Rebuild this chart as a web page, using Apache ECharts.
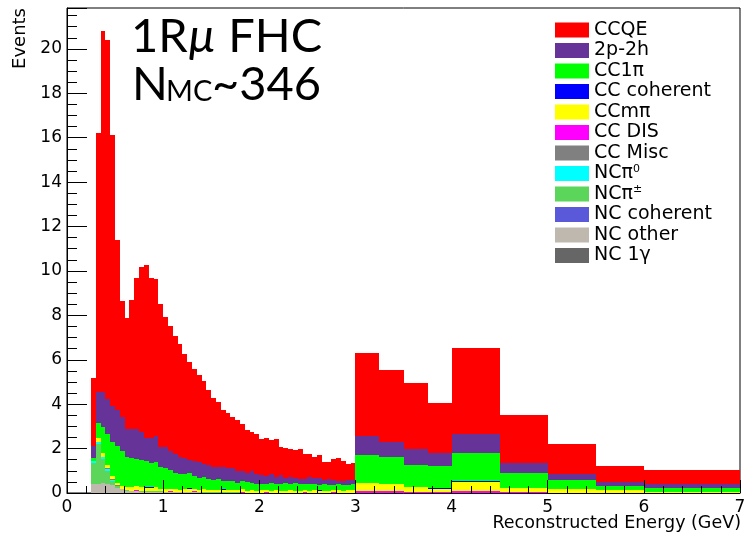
<!DOCTYPE html>
<html><head><meta charset="utf-8">
<script src="https://cdn.jsdelivr.net/npm/echarts@6/dist/echarts.min.js"></script>
<style>html,body{margin:0;padding:0;background:#fff}#c{width:745px;height:541px}</style>
</head><body><div id="c"></div>
<script>
// Bin edges (GeV): 0.05 GeV bins from 0.25 to 3.0, then wide bins
const binEdges = [0.25,0.30,0.35,0.40,0.45,0.50,0.55,0.60,0.65,0.70,0.75,0.80,0.85,0.90,0.95,1.00,
  1.05,1.10,1.15,1.20,1.25,1.30,1.35,1.40,1.45,1.50,1.55,1.60,1.65,1.70,1.75,1.80,1.85,1.90,1.95,2.00,
  2.05,2.10,2.15,2.20,2.25,2.30,2.35,2.40,2.45,2.50,2.55,2.60,2.65,2.70,2.75,2.80,2.85,2.90,2.95,3.00,
  3.25,3.50,3.75,4.00,4.50,5.00,5.50,6.00,7.00];

const categories = ['CCQE','2p-2h','CC1π','CC coherent','CCmπ','CC DIS','CC Misc','NCπ0','NCπ±','NC coherent','NC other','NC 1γ'];
const colors = ['#ff0000','#663399','#00ff00','#0000ff','#ffff00','#ff00ff','#808080','#00ffff','#5bd65b','#5959d9','#bfb8ae','#666666'];

const ccqe = [3.08,11.64,16.24,16.14,12.23,7.66,5.21,
  5.00,5.80,6.83,7.42,7.76,7.19,7.08,6.44,5.84,5.61,5.30,5.08,4.66,4.43,4.16,3.90,3.76,3.38,3.13,2.91,
  2.57,2.45,2.30,2.30,2.10,1.92,1.77,1.77,1.64,1.72,1.55,1.70,1.29,1.35,1.24,1.24,1.33,1.12,1.04,0.94,
  1.05,0.81,0.79,0.94,1.02,0.91,0.71,0.77,
  3.74,3.23,2.95,2.23,3.91,2.16,1.35,0.71,0.60];
const twoP2h = [0.56,1.42,1.61,1.60,1.60,1.60,1.55,
  1.26,1.31,1.32,1.29,1.05,1.12,1.16,0.90,0.95,0.87,0.85,0.75,0.75,0.58,0.67,0.71,0.57,0.60,0.58,0.57,
  0.63,0.60,0.60,0.52,0.45,0.42,0.52,0.45,0.42,0.35,0.37,0.33,0.38,0.22,0.35,0.22,0.23,0.23,0.28,0.28,
  0.28,0.18,0.27,0.20,0.16,0.16,0.20,0.15,
  0.84,0.68,0.73,0.60,0.83,0.48,0.27,0.19,0.21];
const cc1pi = [0.12,0.68,1.16,1.40,1.55,1.65,1.57,
  1.36,1.30,1.25,1.19,1.18,1.10,1.16,1.00,0.94,0.83,0.74,0.73,0.66,0.67,0.58,0.55,0.56,0.52,0.44,0.49,
  0.37,0.42,0.41,0.34,0.37,0.40,0.32,0.31,0.27,0.29,0.36,0.27,0.32,0.38,0.24,0.36,0.32,0.24,0.31,0.28,
  0.25,0.33,0.25,0.24,0.28,0.26,0.26,0.28,
  1.24,1.20,1.00,1.00,1.29,0.65,0.41,0.20,0.15];
const ccCoh = [0,0,0,0,0,0,0,
  0,0,0,0,0.03,0.03,0,0,0,0,0,0,0,0.03,0,0,0,0,0,0,
  0.03,0,0,0,0,0,0.03,0,0,0,0,0,0,0,0.03,0,0,0,0,0,
  0.03,0,0,0,0,0,0,0,
  0,0,0,0.03,0.04,0,0,0,0];
const ccMpi = [0,0.17,0.15,0.13,0.13,0.12,0.12,
  0.15,0.18,0.17,0.20,0.15,0.17,0.18,0.12,0.14,0.10,0.12,0.10,0.14,0.15,0.12,0.10,0.13,0.10,0.12,0.10,
  0.11,0.09,0.10,0.10,0.12,0.08,0.10,0.09,0.10,0.08,0.09,0.10,0.08,0.07,0.10,0.09,0.08,0.10,0.09,0.10,
  0.08,0.07,0.08,0.09,0.10,0.08,0.10,0.12,
  0.40,0.35,0.21,0.15,0.40,0.20,0.14,0.10,0.04];
const ccDis = [0,0,0,0,0,0,0,
  0,0,0.03,0,0,0,0,0,0,0.03,0,0,0,0,0.03,0,0,0,0,0,
  0,0,0,0,0.03,0,0,0,0,0.03,0,0,0,0,0,0,0,0.03,0,0,
  0,0,0,0.03,0,0,0,0,
  0.05,0.05,0.04,0.03,0.06,0.03,0.02,0.02,0.02];
const ccMisc = [0,0,0,0.03,0.03,0.03,0,
  0,0,0,0,0,0,0,0,0,0,0,0,0,0,0,0,0,0,0,0,
  0,0,0,0,0,0,0,0,0,0,0,0,0,0,0,0,0,0,0,0,
  0,0,0,0,0,0,0,0,
  0,0,0,0,0,0,0,0,0];
const ncPi0 = [0.07,0.10,0.12,0.10,0.05,0,0,
  0,0,0,0,0,0,0,0,0,0,0,0,0,0,0,0,0,0,0,0,
  0,0,0,0,0,0,0,0,0,0,0,0,0,0,0,0,0,0,0,0,
  0,0,0,0,0,0,0,0,
  0,0,0,0,0,0,0,0,0];
const ncPipm = [0.95,1.77,1.08,0.60,0.19,0.08,0.03,
  0.03,0.03,0.03,0.02,0.02,0.02,0.02,0.02,0.02,0.02,0.02,0.01,0.01,0.01,0.01,0.01,0.01,0.01,0.01,0.01,
  0.01,0.01,0.01,0.01,0.01,0.01,0.01,0.01,0.01,0.01,0.01,0.01,0.01,0.01,0.01,0.01,0.01,0.01,0.01,0.01,
  0.01,0.01,0.01,0.01,0.01,0.01,0.01,0.01,
  0.01,0.01,0.01,0,0.01,0,0,0,0];
const ncCoh = [0,0,0,0,0,0,0,
  0,0,0,0,0,0,0,0,0,0,0,0,0,0,0,0,0,0,0,0,
  0,0,0,0,0,0,0,0,0,0,0,0,0,0,0,0,0,0,0,0,
  0,0,0,0,0,0,0,0,
  0,0,0,0,0,0,0,0,0];
const ncOther = [0.42,0.42,0.44,0.39,0.35,0.24,0.17,
  0.10,0.08,0.07,0.06,0.06,0.05,0.05,0.05,0.04,0.04,0.04,0.03,0.03,0.03,0.03,0.03,0.02,0.02,0.02,0.02,
  0.02,0.02,0.02,0.02,0.01,0.01,0.01,0.01,0.01,0.01,0.01,0.01,0.01,0.01,0.01,0.01,0.01,0.01,0.01,0.01,
  0.01,0.01,0.01,0.01,0.01,0.01,0.01,0.01,
  0.01,0.01,0.01,0.01,0.01,0.01,0,0,0];
const nc1gamma = [0,0,0,0,0,0,0,
  0,0,0,0,0,0,0,0,0,0,0,0,0,0,0,0,0,0,0,0,
  0,0,0,0,0,0,0,0,0,0,0,0,0,0,0,0,0,0,0,0,
  0,0,0,0,0,0,0,0,
  0,0,0,0,0,0,0,0,0];

const componentValues = [ccqe, twoP2h, cc1pi, ccCoh, ccMpi, ccDis, ccMisc, ncPi0, ncPipm, ncCoh, ncOther, nc1gamma];
// stack from bottom (NC 1γ) to top (CCQE)
const stackOrder = [11,10,9,8,7,6,5,4,3,2,1,0];

function renderItem(params, api) {
  const x0 = api.value(0), x1 = api.value(1), y0 = api.value(2), y1 = api.value(3);
  if (!(y1 - y0 > 0)) return null;
  const a = api.coord([x0, y1]);
  const b = api.coord([x1, y0]);
  const left = Math.round(a[0]), right = Math.round(b[0]);
  const top = Math.round(a[1]), bottom = Math.round(b[1]);
  if (bottom - top <= 0) return null;
  return { type: 'rect', shape: { x: left, y: top, width: right - left, height: bottom - top },
           style: { fill: api.visual('color') } };
}

const nBins = binEdges.length - 1;
const cum = new Array(nBins).fill(0);
const series = stackOrder.map(idx => {
  const vals = componentValues[idx];
  const data = vals.map((v, i) => { const b = cum[i]; cum[i] += v; return [binEdges[i], binEdges[i + 1], b, b + v]; });
  return { type: 'custom', name: categories[idx], renderItem, data, clip: true, z: 1,
           itemStyle: { color: colors[idx] }, encode: { x: [0, 1], y: [2, 3] } };
});

const chart = echarts.init(document.getElementById('c'), null, { renderer: 'canvas' });
const FONT = 'DejaVu Sans';
chart.setOption({
  animation: false,
  backgroundColor: '#fff',
  grid: { left: 67, right: 5, top: 8, bottom: 48, containLabel: false, outerBoundsMode: 'none',
          show: true, borderColor: '#000', borderWidth: 1, backgroundColor: 'transparent', z: 0 },
  xAxis: {
    type: 'value', min: 0, max: 7, interval: 1, z: 10,
    axisLine: { show: true, onZero: false, lineStyle: { color: '#000', width: 1 } },
    axisTick: { show: true, inside: true, length: 13, lineStyle: { color: '#000' } },
    minorTick: { show: true, splitNumber: 5, length: 7, lineStyle: { color: '#000' } },
    splitLine: { show: false },
    axisLabel: { color: '#000', fontFamily: FONT, fontSize: 17, margin: 6 }
  },
  yAxis: {
    type: 'value', min: 0, max: 21.84, interval: 2, z: 10,
    axisLine: { show: true, onZero: false, lineStyle: { color: '#000', width: 1 } },
    axisTick: { show: true, inside: true, length: 20, lineStyle: { color: '#000' } },
    minorTick: { show: true, splitNumber: 4, length: 10, lineStyle: { color: '#000' } },
    splitLine: { show: false },
    axisLabel: { color: '#000', fontFamily: FONT, fontSize: 17, margin: 5, showMaxLabel: false }
  },
  legend: {
    orient: 'vertical', left: 555, top: 20, padding: 0, itemWidth: 34, itemHeight: 15, itemGap: 0.5,
    icon: 'rect', selectedMode: false, data: categories,
    textStyle: { fontFamily: FONT, fontSize: 19, color: '#000', lineHeight: 20,
      rich: { sup: { fontFamily: FONT, fontSize: 11, color: '#000', verticalAlign: 'top', lineHeight: 11 } } },
    formatter: function (name) {
      if (name === 'NCπ0') return 'NCπ{sup|0}';
      if (name === 'NCπ±') return 'NCπ{sup|±}';
      return name;
    }
  },
  graphic: [
    { type: 'text', x: 20, y: 8, rotation: Math.PI / 2,
      style: { text: 'Events', fontFamily: FONT, fontSize: 18, fill: '#000', align: 'right', verticalAlign: 'middle' } },
    { type: 'text', x: 741, y: 523,
      style: { text: 'Reconstructed Energy (GeV)', fontFamily: FONT, fontSize: 17.5, fill: '#000', align: 'right', verticalAlign: 'middle' } },
    { type: 'text', x: 131, y: 37,
      style: { text: '1R{mu|µ} FHC', fontFamily: 'Lato', fontSize: 47, fill: '#000', verticalAlign: 'middle',
        rich: { mu: { fontFamily: 'Lato', fontStyle: 'italic', fontSize: 47, fill: '#000' } } } },
    { type: 'text', x: 132, y: 85,
      style: { text: 'N', fontFamily: 'Lato', fontSize: 47, fill: '#000', verticalAlign: 'middle' } },
    { type: 'text', x: 166, y: 92,
      style: { text: 'MC', fontFamily: 'Lato', fontSize: 29, fill: '#000', verticalAlign: 'middle' } },
    { type: 'text', x: 212, y: 85,
      style: { text: '~346', fontFamily: 'Lato', fontSize: 47, fill: '#000', verticalAlign: 'middle' } }
  ],
  series: series
});
</script>
</body></html>
